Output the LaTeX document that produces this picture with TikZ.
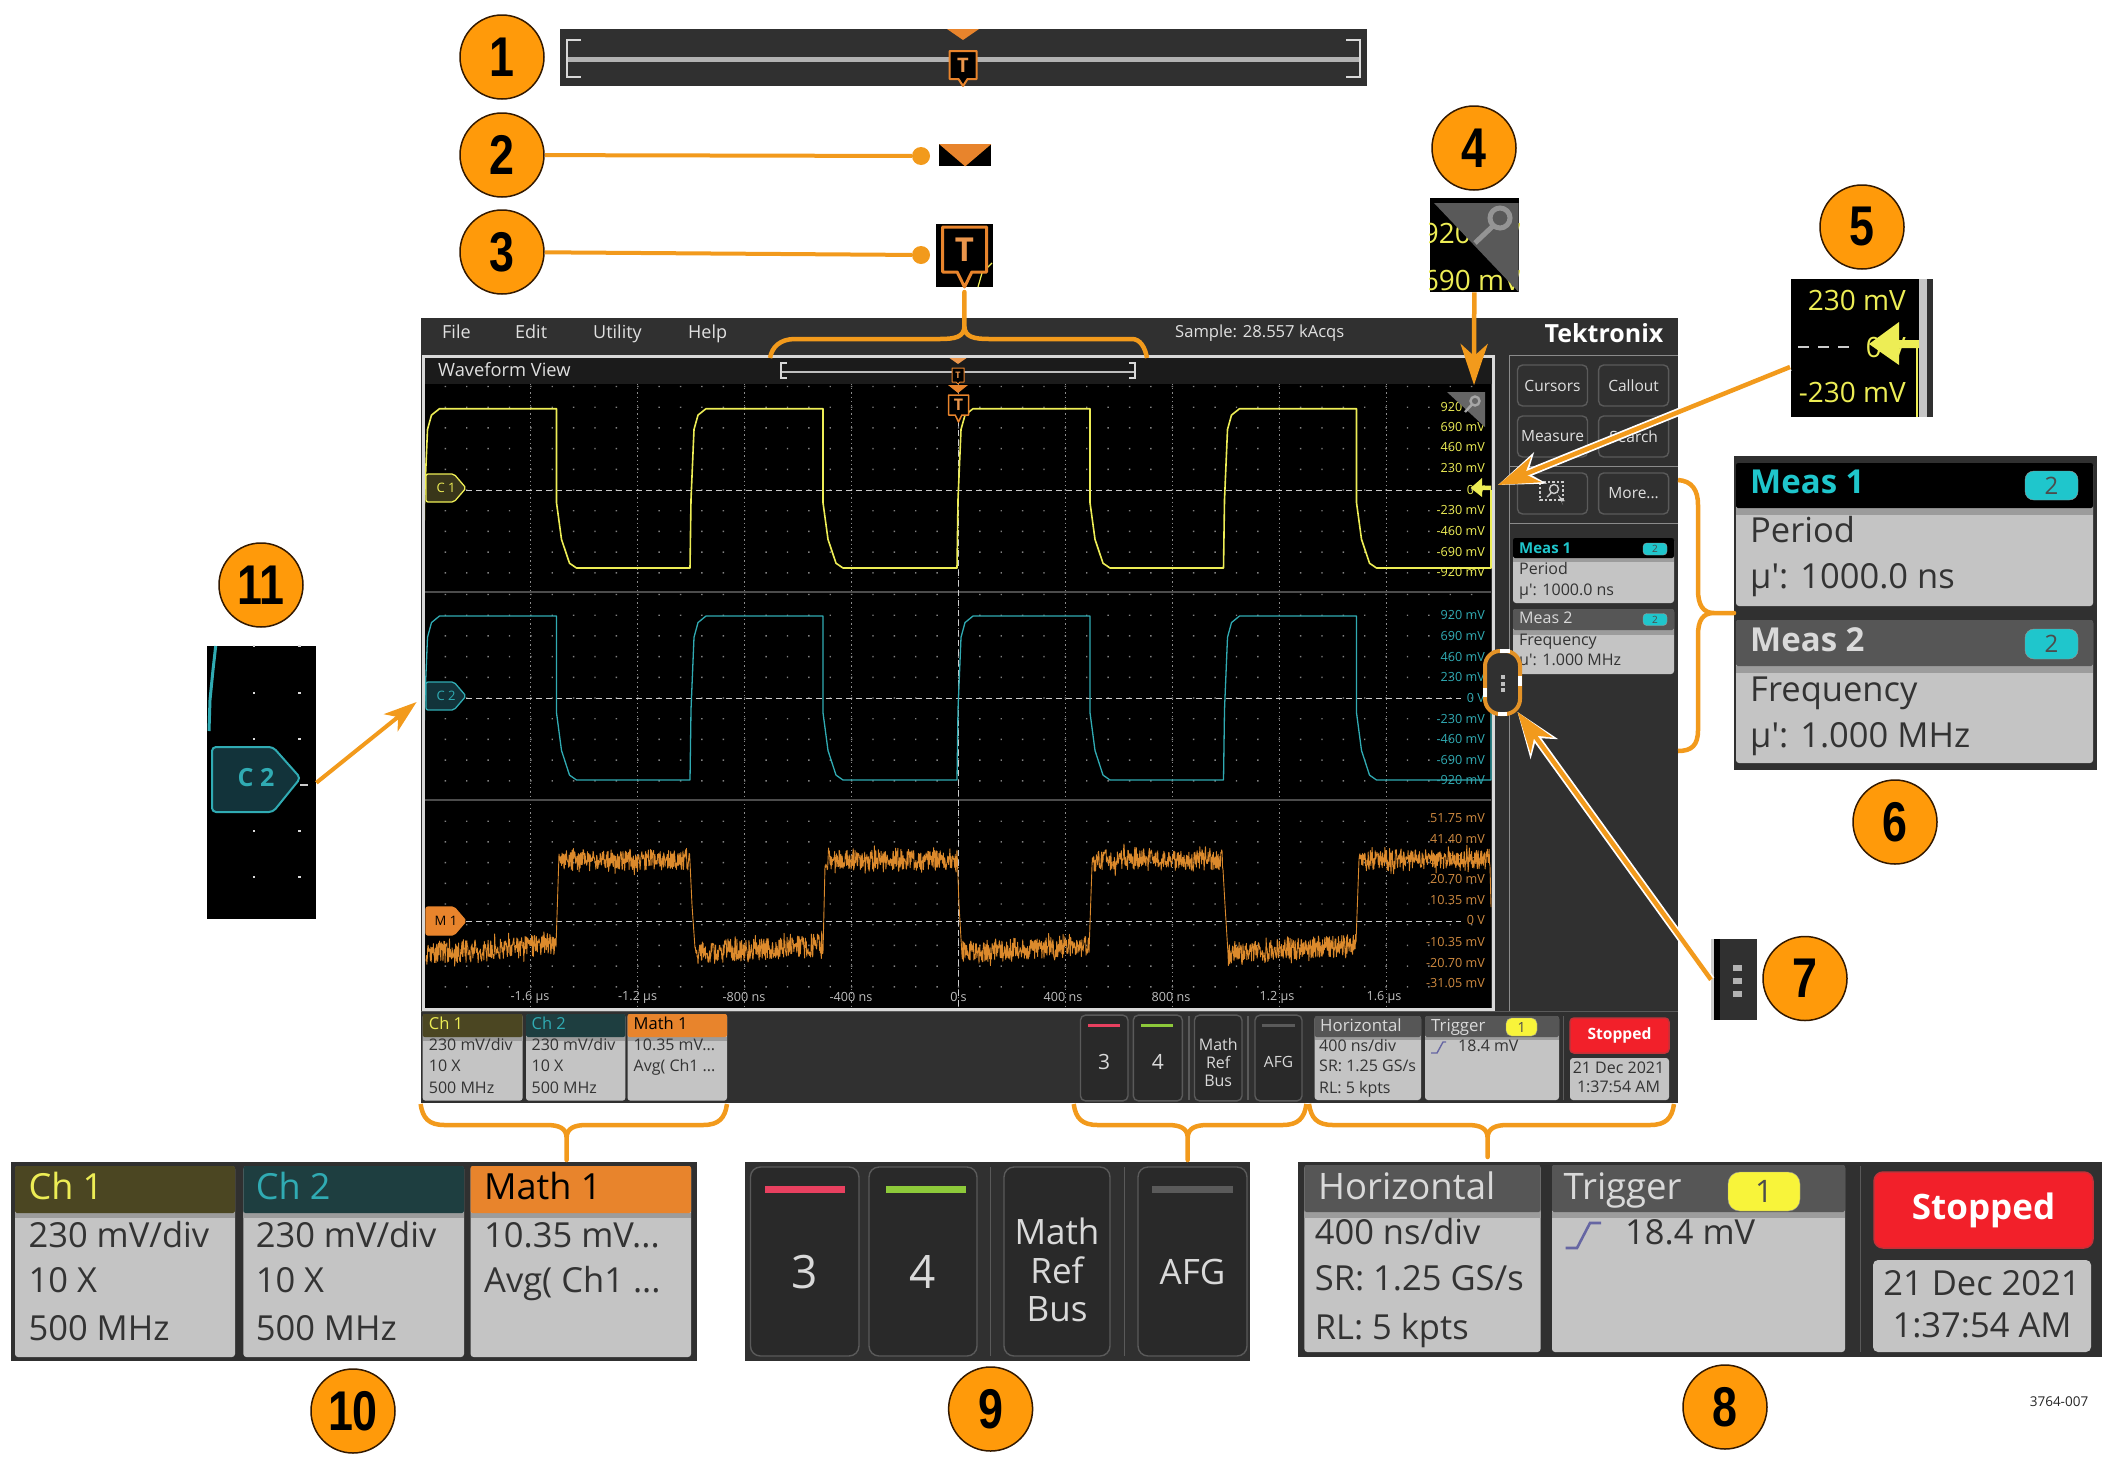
\documentclass[tikz,border=0pt]{standalone}
\usepackage{fontspec}
\setmainfont{Open Sans}
\newfontfamily\badgefont[FakeStretch=0.8]{Liberation Sans}
\usetikzlibrary{arrows.meta}
\definecolor{callout}{HTML}{F29A1C}
\definecolor{badgefill}{HTML}{FF9A0A}
\definecolor{screen}{HTML}{303030}
\definecolor{rim}{HTML}{5A5A5A}
\definecolor{chyellow}{HTML}{EDED55}
\definecolor{chteal}{HTML}{30ABB3}
\definecolor{mathorange}{HTML}{DC8A2C}
\definecolor{flagorange}{HTML}{E8842C}
\definecolor{labelorange}{HTML}{CF8A40}
\definecolor{cardbody}{HTML}{C4C4C4}
\definecolor{cardband}{HTML}{9C9C9C}
\definecolor{greyhead}{HTML}{565656}
\definecolor{chonehead}{HTML}{4B4622}
\definecolor{chtwohead}{HTML}{1E3E40}
\definecolor{measteal}{HTML}{1FC6CC}
\definecolor{tagyellow}{HTML}{39361A}
\definecolor{tagteal}{HTML}{12333A}
\definecolor{stopred}{HTML}{F2202A}
\definecolor{keyred}{HTML}{E8405F}
\definecolor{keygreen}{HTML}{8DC93A}
\definecolor{pillyellow}{HTML}{F8F43A}
\newcommand{\pxfont}[1]{\fontsize{#1}{#1}\selectfont}
\newcommand{\capmid}[1]{\raisebox{-.36em}{#1}}
\newcommand{\cutoff}{...}
\tikzset{
    badge/.style={circle, draw=black!80!orange, line width=1.5pt, fill=badgefill, minimum size=84pt, inner sep=0pt, font=\pxfont{56}\badgefont\bfseries},
    leadline/.style={callout, line width=4pt},
    bracket/.style={callout, line width=4.5pt, line join=round},
    calloutarrow/.style={callout, line width=4.5pt, -{Stealth[length=41pt,width=27pt,inset=12pt]}},
    calloutglow/.style={white, line width=8pt, -{Stealth[length=45pt,width=33pt,inset=13pt]}},
    leaddot/.style={circle, fill=callout, minimum size=18pt, inner sep=0pt},
    shot/.style={inner sep=0pt, minimum width=#1, anchor=north west},
    softkey/.style={draw=rim, line width=1.4pt, fill=screen, rounded corners=5pt, inner sep=0pt},
    txt/.style={inner sep=0pt, anchor=base west},
    rtxt/.style={inner sep=0pt, anchor=base east},
    scale label/.style={rtxt, font=\pxfont{12.6}},
    zeroline/.style={black!20, line width=.9pt, dash pattern=on 6pt off 4pt},
    pill/.style={inner sep=0pt, draw=black!40},
}

\begin{document}
\begin{tikzpicture}[x=1pt,y=-1pt]
    \useasboundingbox (0,0) rectangle (2114,1462);

    % Draw the instrument screen
    \fill[screen] (421,318) rectangle (1678,1103);
    \fill[screen!110!white] (424,357) rectangle (1492,384);
    \fill[black] (424,384) rectangle (1491,1008);
    \draw[rim!70!white] (1509,355) -- (1678,355) (1509,355) -- (1509,1011) (1509,466) -- (1678,466) (1509,523) -- (1678,523);
    \draw[rim] (421,1011) -- (1678,1011);

    % Menu line
    \foreach \txt/\x/\nm in {File/442/file, Edit/515/edit, Utility/593/utility, Help/688/help} {
        \node[txt, white!88!black, font=\pxfont{18}] (\nm) at (\x,332) {\capmid{\txt}};
    }
    \node[txt, white!88!black, font=\pxfont{16.6}] (sample) at (1175,332) {\capmid{Sample: 28.557 kAcqs}};
    \node[txt, white!88!black, font=\pxfont{18.3}] (wfview) at (438,370) {\capmid{Waveform View}};
    \node[inner sep=0pt, white, font=\pxfont{25}\bfseries] (brand) at (1604,333) {Tektronix};

    % Dots of the graticule
    \fill[black!50] \foreach \yc/\ja/\jb in {490/-5/4, 698/-5/4, 904/-4/4} {
        \foreach \j in {\ja,...,\jb} {
            \foreach \k in {0,...,50} {
                ({424+21.38*\k-.7},{\yc+20.7*\j-.7}) rectangle ++(1.4,1.4)
            }
        }
    };
    \foreach \k in {1,...,9} {
        \draw[black!45, line width=1pt, dash pattern=on 1.2pt off 3pt] ({424+106.9*\k},384) -- ({424+106.9*\k},1007);
    }
    \draw[black!70, line width=2pt] (424,592) -- (1491,592) (424,800) -- (1491,800);
    \draw[zeroline] (466,490) -- (1461,490) (466,698) -- (1461,698) (466,921) -- (1461,921);
    \draw[zeroline] (958.5,420) -- (958.5,1007);

    % Scale labels
    \foreach \v/\y [count=\i] in {920 mV/407, 690 mV/427, 460 mV/447, 230 mV/468, 0 V/490, -230 mV/510, -460 mV/531, -690 mV/552, -920 mV/572} {
        \node[scale label, chyellow] (yl\i) at (1485,\y) {\capmid{\v}};
    }
    \foreach \v/\y [count=\i] in {920 mV/615, 690 mV/636, 460 mV/657, 230 mV/677, 0 V/698, -230 mV/719, -460 mV/739, -690 mV/760, -920 mV/780} {
        \node[scale label, chteal] (tl\i) at (1485,\y) {\capmid{\v}};
    }
    \foreach \v/\y [count=\i] in {51.75 mV/818, 41.40 mV/839, 31.05 mV/860, 20.70 mV/879, 10.35 mV/900, 0 V/920, -10.35 mV/942, -20.70 mV/963, -31.05 mV/983} {
        \node[scale label, labelorange] (ol\i) at (1485,\y) {\capmid{\v}};
    }
    \foreach \v/\x [count=\i] in {-1.6 µs/530, -1.2 µs/637.6, -800 ns/744, -400 ns/851, 0 s/958.5, 400 ns/1063, 800 ns/1171, 1.2 µs/1277, 1.6 µs/1384} {
        \node[inner sep=0pt, black!25, font=\pxfont{12.6}] (tm\i) at (\x,997) {\v};
    }

    % Draw the traces
    \begin{scope}
        \clip (424,384) rectangle (1492,1008);
        \foreach \col/\hi/\lo/\zero/\lw in {chyellow/408.7/568/490/1.6, chteal/616/780/698/1.3} {
            \draw[\col, line width=\lw pt, line join=round] (424,\lo) \foreach \r in {423.5,690,957,1223.5} {
                -- (\r,\lo) -- (\r+1,{\lo-.43*(\lo-\hi)}) -- (\r+4,{\lo-.87*(\lo-\hi)}) -- (\r+8,{\lo-.96*(\lo-\hi)}) -- (\r+16,\hi)
                -- (\r+133,\hi) -- (\r+133,{\hi+.59*(\lo-\hi)}) -- (\r+138,{\hi+.82*(\lo-\hi)}) -- (\r+146,{\hi+.97*(\lo-\hi)}) -- (\r+153,\lo)
            } -- (1491,\lo) -- (1491,\zero);
        }
        \pgfmathsetseed{3764}
        \draw[mathorange, line width=.9pt, line join=round]
            plot[domain=426:556,samples=300] (\x,{953-8*(\x-426)/130+11*rand+9*rand*rand*rand})
            \foreach \sa/\sb/\ta/\tb in {559/690/695/823, 825/957/962/1089, 1092/1223/1228/1356} {
                -- plot[domain=\sa:\sb,samples=300] (\x,{860+10*rand+11*rand*rand*rand})
                -- (\sb+2,905)
                -- plot[domain=\ta:\tb,samples=300] (\x,{953-8*(\x-\ta)/134+11*rand+9*rand*rand*rand})
            }
            -- plot[domain=1359:1490,samples=300] (\x,{860+10*rand+11*rand*rand*rand}) -- (1491,907);
    \end{scope}

    % Channel tags on the left of the graticule
    \foreach \nm/\txt/\yc/\fc/\dc/\tc in {tagone/C 1/488/tagyellow/chyellow/chyellow, tagtwo/C 2/696/tagteal/chteal/chteal, tagmath/M 1/921/flagorange/flagorange/black} {
        \draw[\dc, fill=\fc, line width=1.3pt, rounded corners=2pt] (426,\yc-14) -- (454,\yc-14) -- (466,\yc) -- (454,\yc+14) -- (426,\yc+14) -- cycle;
        \node[inner sep=0pt, \tc, font=\pxfont{13}] (\nm) at (446,\yc) {\txt};
    }

    % Magnifier corner and yellow level marker on the graticule
    \fill[black!60] (1447,392) -- (1485,392) -- (1485,427) -- cycle;
    \draw[black!35, line width=2.4pt] (1475,401) circle (4.5pt) (1471.5,405) -- (1465,412);
    \fill[chyellow] (1470.6,488) -- (1482,478) -- (1482,485.5) -- (1491,485.5) -- (1491,490) -- (1482,490) -- (1482,497) -- cycle;

    % Zoom bar inside the waveform view and the trigger marks
    \draw[black!25, line width=1.5pt] (781,372) -- (1135,372);
    \draw[white!85!black, line width=1.2pt] (787,363) -- (781,363) -- (781,378) -- (787,378) (1129,363) -- (1135,363) -- (1135,378) -- (1129,378);
    \fill[flagorange!85!white] (948,357) -- (968,357) -- (958,364) -- cycle;
    \fill[flagorange] (948,385) -- (968,385) -- (958,393) -- cycle;

    % Softkeys at the right
    \foreach \cx/\cy/\txt [count=\i] in {1552.5/385.5/Cursors, 1633.6/385.5/Callout, 1552.5/436.5/Measure, 1633.6/436.5/Search, 1552.5/493.5/{}, 1633.6/493.5/More\cutoff} {
        \node[softkey, minimum width=70pt, minimum height=41pt, text=white!88!black, font=\pxfont{15.5}] (key\i) at (\cx,\cy) {\txt};
    }
    \draw[white!80!black, line width=1.2pt, dash pattern=on 2.5pt off 2pt] (1540,482) rectangle (1563,500);
    \draw[white!80!black, line width=1.4pt] (1554,489) circle (4.5pt) (1551,493) -- (1547,497);
    \fill[white!80!black] (1558,495) -- (1565,501) -- (1561.5,501.5) -- (1563,505) -- cycle;

    % The panels that repeat parts of the screen
    \node[shot=807pt, minimum height=57pt, fill=screen] (panelone) at (559.4,29) {};
    \node[shot=52pt, minimum height=22pt, fill=black] (paneltwo) at (939,144) {};
    \node[shot=57pt, minimum height=63pt, fill=black] (panelthree) at (936,224) {};
    \node[shot=89pt, minimum height=94pt, fill=black] (panelfour) at (1429.6,198) {};
    \node[shot=142pt, minimum height=138pt, fill=black] (panelfive) at (1791,279) {};
    \node[shot=363pt, minimum height=314pt, fill=screen] (panelsix) at (1734,456) {};
    \node[shot=45.5pt, minimum height=81pt, fill=screen] (panelseven) at (1711,939) {};
    \node[shot=804pt, minimum height=195pt, fill=screen] (paneleight) at (1297.6,1162) {};
    \node[shot=505pt, minimum height=199pt, fill=screen] (panelnine) at (745,1162) {};
    \node[shot=686pt, minimum height=199pt, fill=screen] (panelten) at (10.8,1162) {};
    \node[shot=109pt, minimum height=273pt, fill=black] (paneleleven) at (207,646) {};

    % Zoom bar of panel 1
    \draw[black!30, line width=5pt] (567,59.5) -- (1360,59.5);
    \draw[white!85!black, line width=2pt] (581,40) -- (567,40) -- (567,77) -- (581,77) (1346,40) -- (1360,40) -- (1360,77) -- (1346,77);
    \fill[flagorange] (947,29) -- (979,29) -- (963,40) -- cycle;
    \fill[flagorange] (paneltwo.north west) -- (paneltwo.north east) -- (paneltwo.south) -- cycle;

    % Yellow edge seen behind the T of panel 3
    \draw[chyellow, line width=1.2pt] (978,287) -- (982,273) -- (992,263);

    % Trigger flags
    \foreach \nm/\xc/\hw/\ya/\yb/\yc/\fs/\lw in {flagone/963/13.5/51/79/86/20/2, flagtwo/964.5/22/227/272/287/33/3, flagthree/958/6/368/382/384/9/1, flagfour/958.5/10/395/415/422/16/1.5} {
        \draw[flagorange, fill=black, line width=\lw pt, line join=round] (\xc-\hw,\ya) -- (\xc+\hw,\ya) -- (\xc+\hw,\yb) -- (\xc+\hw/3,\yb) -- (\xc,\yc) -- (\xc-\hw/3,\yb) -- (\xc-\hw,\yb) -- cycle;
        \node[inner sep=0pt, flagorange!85!white, font=\pxfont{\fs}\bfseries] (\nm) at (\xc,{(\ya+\yb)/2}) {T};
    }

    % Magnifier corner of panel 4
    \begin{scope}
        \clip (panelfour.north west) rectangle (panelfour.south east);
        \node[rtxt, chyellow, font=\pxfont{28}] (four one) at (1521,233) {\capmid{920 mV}};
        \node[rtxt, chyellow, font=\pxfont{28}] (four two) at (1521,280) {\capmid{690 mV}};
        \fill[black!65] (1434,203) -- (1518.6,203) -- (1518.6,292) -- cycle;
        \draw[black!42, line width=5pt] (1500,218) circle (10pt) (1493,226) -- (1475,243);
    \end{scope}

    % Level marker of panel 5
    \fill[black!22] (1919,279) rectangle (1927,417);
    \fill[screen] (1927,279) rectangle (1933,417);
    \node[rtxt, chyellow, font=\pxfont{28}] (five one) at (1906,300) {\capmid{230 mV}};
    \node[rtxt, chyellow, font=\pxfont{28}] (five two) at (1906,347) {\capmid{0 V}};
    \node[rtxt, chyellow, font=\pxfont{28}] (five three) at (1906,392) {\capmid{-230 mV}};
    \draw[zeroline, line width=1.4pt, dash pattern=on 11pt off 9pt] (1798,347) -- (1853,347);
    \fill[chyellow] (1869,344) -- (1899,322) -- (1899,340) -- (1919,340) -- (1919,348) -- (1899,348) -- (1899,365) -- cycle;
    \draw[chyellow, line width=1.6pt] (1917,348) -- (1917,417);

    % Handle of panel 7
    \fill[black!20] (1711,939) rectangle (1714,1020);
    \fill[black] (1714,939) rectangle (1720,1020);
    \foreach \y in {968,981,993.6} {
        \fill[black!30] (1733,\y-3) rectangle (1742,\y+3);
    }

    % Contents of panel 11
    \foreach \x in {253.7,299.6} {
        \foreach \y in {646,692.7,739,831,877} {
            \fill[white!85!black] (\x-1.2,\y-1.2) rectangle (\x+1.2,\y+1.2);
        }
    }
    \draw[chteal, line width=3pt] (215.7,646) -- (213,670) -- (210,700) -- (209,731);
    \draw[white!80!black, line width=1.4pt] (300,785) -- (308,785);
    \draw[chteal, fill=tagteal, line width=2pt, rounded corners=4pt] (212,747) -- (273,747) -- (300.5,778) -- (273,812) -- (212,812) -- cycle;
    \node[inner sep=0pt, chteal, font=\pxfont{25}\bfseries] (tageleven) at (256,778) {C 2};

    % Cards with a coloured head: small ones and their enlarged copies
    \foreach \xa/\xb/\ya/\yb/\yc/\yd/\head in {
        422.6/522.7/1014/1037/1041/1100.7/chonehead, 526/625.4/1014/1037/1041/1100.7/chtwohead, 627.5/727/1014/1037/1041/1100.7/flagorange,
        1314.6/1421/1016/1037/1040/1100/greyhead, 1425/1559/1016/1037/1040/1100/greyhead,
        1513/1674/538/558/562/603/black, 1513/1674/609/630/634.5/674/greyhead,
        15/235/1166/1213/1218/1357/chonehead, 243.4/464/1166/1213/1218/1357/chtwohead, 470.6/691/1166/1213/1218/1357/flagorange,
        1304.4/1540.5/1165/1212/1218/1352/greyhead, 1552/1845/1165/1212/1218/1352/greyhead,
        1736/2093/463/508/515/606/black, 1736/2093/620/666/673/763/greyhead} {
        \fill[cardbody, rounded corners=3pt] (\xa,\ya) rectangle (\xb,\yd);
        \fill[cardband] (\xa,\yb) rectangle (\xb,\yc);
        \fill[\head, rounded corners=2pt] (\xa,\ya) rectangle (\xb,\yb);
    }

    % Text of the small cards
    \foreach \txt/\x/\y [count=\i] in {{230 mV/div}/428.7/1045, 10 X/428.7/1066, 500 MHz/428.7/1088, {230 mV/div}/531.4/1045, 10 X/531.4/1066, 500 MHz/531.4/1088, 10.35 mV\cutoff/633.5/1045, Avg( Ch1 \cutoff/633.5/1066, {400 ns/div}/1319/1046, {SR: 1.25 GS/s}/1319/1066, RL: 5 kpts/1319/1088, 18.4 mV/1458/1046, Period/1519/568.5, µ\textquotesingle: 1000.0 ns/1519/589.5, Frequency/1519/640, µ\textquotesingle: 1.000 MHz/1519/660} {
        \node[txt, black!80, font=\pxfont{16}] (smalltxt\i) at (\x,\y) {\capmid{\txt}};
    }
    % Text of the enlarged cards
    \foreach \txt/\x/\y [count=\i] in {{230 mV/div}/28.4/1235, 10 X/28.4/1280, 500 MHz/28.4/1328, {230 mV/div}/255.6/1235, 10 X/255.6/1280, 500 MHz/255.6/1328, 10.35 mV\cutoff/484/1235, Avg( Ch1 \cutoff/484/1280, {400 ns/div}/1314.6/1232, {SR: 1.25 GS/s}/1314.6/1278, RL: 5 kpts/1314.6/1327, 18.4 mV/1625/1232, Period/1750/530, µ\textquotesingle: 1000.0 ns/1750/576, Frequency/1750/689, µ\textquotesingle: 1.000 MHz/1750/734.6} {
        \node[txt, black!80, font=\pxfont{34.5}] (bigtxt\i) at (\x,\y) {\capmid{\txt}};
    }
    % Heads of the cards
    \foreach \txt/\x/\y/\col/\fs [count=\i] in {Ch 1/428.7/1024/chyellow/16.5, Ch 2/531.4/1024/chteal/16.5, Math 1/633.5/1024/black/16.5, Horizontal/1320/1025/black!15/16.8, Trigger/1431/1025/black!15/16.8, {\bfseries Meas 1}/1519/548/measteal/15, Meas 2/1519/618/black!15/16,
        Ch 1/28.4/1187/chyellow/36, Ch 2/255.6/1187/chteal/36, Math 1/484/1187/black/36, Horizontal/1318/1186/black!15/36.5, Trigger/1563.5/1186/black!15/36.5, {\bfseries Meas 1}/1750/481.5/measteal/33, {\bfseries Meas 2}/1750/640/black!15/33} {
        \node[txt, \col, font=\pxfont{\fs}] (headtxt\i) at (\x,\y) {\capmid{\txt}};
    }
    % Little number pills
    \foreach \cx/\cy/\w/\h/\col/\txt/\fs [count=\i] in {1655/549/24/12/measteal/2/10, 1655/619.5/24/12/measteal/2/10, 2051.5/485.5/53/29/measteal/2/24, 2051.5/644/53/30/measteal/2/24, 1521.5/1027/31/18/pillyellow/1/14, 1764/1191.5/72/39/pillyellow/1/31} {
        \pgfmathsetmacro{\rc}{\h*.3}
        \node[pill, rounded corners=\rc pt, fill=\col, minimum width=\w pt, minimum height=\h pt, text=black!70, font=\pxfont{\fs}] (pill\i) at (\cx,\cy) {\txt};
    }

    % Slope of the trigger
    \draw[black!60!blue!60, line width=1.4pt] (1431,1053) -- (1437,1053) -- (1443,1042) -- (1446,1042);
    \draw[black!60!blue!60, line width=2.6pt] (1565.6,1248) -- (1577,1248) -- (1590,1223) -- (1601,1223);

    % Stopped buttons and dates
    \foreach \cx/\cy/\w/\h/\fs/\rc/\nm in {1619.5/1035.5/99/35/15.6/4/stopsmall, 1983.5/1210/219/76/35/9/stopbig} {
        \node[rounded corners=\rc pt, fill=stopred, draw=stopred!70!rim, line width=1.5pt, inner sep=0pt, minimum width=\w pt, minimum height=\h pt, text=white, font=\pxfont{\fs}\bfseries] (\nm) at (\cx,\cy) {Stopped};
    }
    \fill[cardbody, rounded corners=3pt] (1570,1058) rectangle (1669,1100);
    \fill[cardbody, rounded corners=5pt] (1873,1260) rectangle (2091,1352);
    \foreach \txt/\cx/\cy/\fs [count=\i] in {21 Dec 2021/1618.5/1068/16, 1:37:54 AM/1618.5/1087/16, 21 Dec 2021/1982/1283/34.5, 1:37:54 AM/1982/1325/34.5} {
        \node[inner sep=0pt, black!80, font=\pxfont{\fs}] (date\i) at (\cx,\cy) {\txt};
    }

    % Separators in the status bar and its enlarged copies
    \draw[rim, line width=1.2pt] (1189,1016) -- (1189,1100) (1248,1016) -- (1248,1100) (1563.6,1016) -- (1563.6,1100) (990.5,1167) -- (990.5,1356) (1124.6,1167) -- (1124.6,1356) (1860.7,1166) -- (1860.7,1352);

    % Keys 3, 4, Math Ref Bus and AFG
    \foreach \cx/\cy/\w/\h/\rc [count=\i] in {1104.2/1058/47.5/85.7/5, 1157.8/1058/49/85.7/5, 1218.2/1058/47.5/85.7/5, 1278.5/1058/47/85.7/5, 804.7/1261.5/108.5/189/10, 923/1261.5/108/189/10, 1057/1261.5/106/189/10, 1192.5/1261.5/109/189/10} {
        \node[softkey, rounded corners=\rc pt, fill=screen!85!black, minimum width=\w pt, minimum height=\h pt] (lane\i) at (\cx,\cy) {};
    }
    \foreach \xa/\xb/\ya/\yb/\col in {1088/1120/1023.5/1027/keyred, 1141/1173/1023.5/1027/keygreen, 1262/1295/1023.5/1027/rim, 765/845/1185.5/1192.5/keyred, 886/965.5/1185.5/1192.5/keygreen, 1152/1233/1185.5/1192.5/rim} {
        \fill[\col] (\xa,\ya) rectangle (\xb,\yb);
    }
    \foreach \cx/\cy/\txt/\fs/\ls [count=\i] in {1104.2/1062/3/21/21, 1157.8/1062/4/21/21, 1218.2/1062/{Math\\Ref\\Bus}/16/18, 1278.5/1062/AFG/15.5/16, 804.7/1272/3/46/46, 923/1272/4/46/46, 1057/1270/{Math\\Ref\\Bus}/35/38.5, 1192.5/1272/AFG/35/35} {
        \node[inner sep=0pt, white!85!black, align=center, font=\fontsize{\fs}{\ls}\selectfont] (lanetxt\i) at (\cx,\cy) {\txt};
    }

    % Border of the waveform view, handle on it
    \draw[white!85!black, line width=3pt] (423,356) rectangle (1493,1009);
    \draw[callout!70!brown, fill=screen, line width=4pt, rounded corners=15pt] (1485,651) rectangle (1520,714);
    \draw[white, line width=4pt] (1500,651) -- (1510,651) (1520,676) -- (1520,686) (1485,688) -- (1485,697) (1498,714) -- (1507,714);
    \foreach \y in {677,684,690} {
        \fill[black!25] (1501,\y-2) rectangle (1505,\y+2);
    }

    % Numbered badges
    \foreach \nm/\cx/\cy/\txt in {badgeone/502/57/1, badgetwo/502/155/2, badgethree/502/252/3, badgefour/1474/148/4, badgefive/1862/227/5, badgesix/1895/822/6, badgeseven/1805/978.5/7, badgeeight/1725/1407/8, badgenine/990.6/1409/9, badgeten/353/1411/10, badgeeleven/261/585/11} {
        \node[badge] (\nm) at (\cx,\cy) {\txt};
    }
    \node[inner sep=0pt, black!85, font=\pxfont{13.5}] (partno) at (2059,1402) {3764-007};

    % Lead lines with a dot
    \node[leaddot] (dottwo) at (921,156) {};
    \node[leaddot] (dotthree) at (921,255) {};
    \draw[leadline] (badgetwo) -- (dottwo);
    \draw[leadline] (badgethree) -- (dotthree);

    % Arrows to the screen
    \coordinate (tipfour) at (1474,385);
    \coordinate (tailfive) at (1790,367);
    \coordinate (tipfive) at (1498,485);
    \coordinate (tipseven) at (1517.5,712);
    \coordinate (tipeleven) at (416.6,702);
    \draw[calloutarrow] (panelfour.south) -- (tipfour);
    \draw[calloutglow] (tailfive) -- (tipfive);
    \draw[calloutarrow] (tailfive) -- (tipfive);
    \draw[calloutglow] (panelseven.west) -- (tipseven);
    \draw[calloutarrow] (panelseven.west) -- (tipseven);
    \draw[calloutarrow, line width=4pt, -{Stealth[length=33pt,width=22pt,inset=9pt]}] (paneleleven.east) -- (tipeleven);

    % Brackets
    \draw[bracket] (770,358) .. controls (772,347) and (780,339) .. (795,339) -- (940,339) .. controls (955,339) and (964.4,337) .. (964.4,326) -- (964.4,292) -- (964.4,326) .. controls (964.4,337) and (974,339) .. (989,339) -- (1132,339) .. controls (1140,339) and (1145,347) .. (1147,358);
    \draw[bracket] (1678,480) .. controls (1692,481) and (1698,490) .. (1698,505) -- (1698,590) .. controls (1698,605) and (1703,613) .. (1714,613) -- (1734,613) -- (1714,613) .. controls (1703,613) and (1698,620) .. (1698,635) -- (1698,730) .. controls (1698,745) and (1692,751) .. (1678,751);
    \foreach \xl/\xm/\xr/\ys in {420.6/566.6/727/1160, 1073.7/1187.7/1306.4/1160, 1309/1487.6/1674/1157} {
        \draw[bracket] (\xl,1104) .. controls (\xl+2,1118) and (\xl+8,1125) .. (\xl+24,1125) -- (\xm-20,1125) .. controls (\xm-8,1125) and (\xm,1128) .. (\xm,1138) -- (\xm,\ys) -- (\xm,1138) .. controls (\xm,1128) and (\xm+8,1125) .. (\xm+20,1125) -- (\xr-24,1125) .. controls (\xr-8,1125) and (\xr-2,1118) .. (\xr,1104);
    }
\end{tikzpicture}
\end{document}
